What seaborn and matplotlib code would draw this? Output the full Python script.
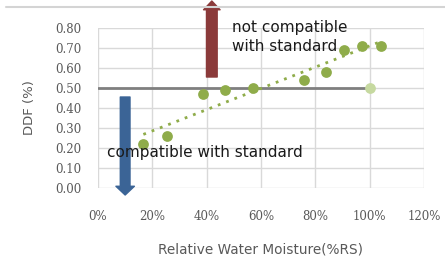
import pandas as pd
import matplotlib.pyplot as plt
import seaborn as sns

# data
moisture = [0.167, 0.255, 0.385, 0.467, 0.569, 0.759, 0.838, 0.905, 0.970, 1.040]
ddf = [0.22, 0.26, 0.47, 0.49, 0.50, 0.54, 0.58, 0.69, 0.71, 0.71]
limit_x = [0.0, 1.0]
limit_y = [0.50, 0.50]
xticks = [0, 0.2, 0.4, 0.6, 0.8, 1.0, 1.2]
yticks = [0, 0.1, 0.2, 0.3, 0.4, 0.5, 0.6, 0.7, 0.8]

df = pd.DataFrame({'moisture': moisture, 'ddf': ddf})

sns.set_style('white')
fig = plt.figure(figsize=(4.45, 2.62), dpi=100)
ax = fig.add_axes([0.2202, 0.2824, 0.7326, 0.6107])

grey_txt = '#595959'
green = '#8fac4a'

# standard limit line
ax.plot(limit_x, limit_y, color='#7f7f7f', lw=2, zorder=2)
ax.scatter([limit_x[1]], [limit_y[1]], s=60, color='#c6d9a0', zorder=3, linewidths=0)

sns.regplot(data=df, x='moisture', y='ddf', ci=None, ax=ax, color=green,
            scatter_kws=dict(s=60, linewidths=0, zorder=4, alpha=1),
            line_kws=dict(ls=(0, (1, 2.2)), lw=2, zorder=3))

ax.set_xlim(0, 1.2)
ax.set_ylim(0, 0.8)
ax.set_xticks(xticks)
ax.set_yticks(yticks)
ax.set_xticklabels([f'{int(round(t*100))}%' for t in xticks])
ax.set_yticklabels([f'{t:.2f}' for t in yticks])
ax.grid(True, color='#d9d9d9', lw=1)
ax.set_axisbelow(True)
for s in ax.spines.values():
    s.set_visible(False)
ax.tick_params(axis='y', length=0, pad=12, labelsize=8.5, labelcolor=grey_txt,
               labelfontfamily='DejaVu Serif')
ax.tick_params(axis='x', length=0, pad=16, labelsize=8.5, labelcolor=grey_txt,
               labelfontfamily='DejaVu Serif')

ax.set_xlabel('Relative Water Moisture(%RS)', fontsize=9.8, color=grey_txt, labelpad=14)
ax.set_ylabel('DDF (%)', fontsize=9.5, color=grey_txt, labelpad=14)

# arrows
ax.annotate('', xy=(0.419, 0.935), xytext=(0.419, 0.555), annotation_clip=False,
            arrowprops=dict(arrowstyle='simple,head_length=0.45,head_width=0.85,tail_width=0.55',
                            mutation_scale=14, color='#8b3a3a', shrinkA=0, shrinkB=0))
ax.annotate('', xy=(0.10, -0.035), xytext=(0.10, 0.455), annotation_clip=False,
            arrowprops=dict(arrowstyle='simple,head_length=0.45,head_width=0.95,tail_width=0.5',
                            mutation_scale=14, color='#3b6496', shrinkA=0, shrinkB=0))

ax.text(0.493, 0.755, 'not compatible\nwith standard', fontsize=11, va='center', ha='left',
        linespacing=1.3, color='#1a1a1a', zorder=6)
ax.text(0.033, 0.18, 'compatible with standard', fontsize=11, va='center', ha='left',
        color='#1a1a1a', zorder=6)

# top border line of the chart frame
fig.add_artist(plt.Line2D([6/445, 1], [1 - 7/262, 1 - 7/262], color='#d4d4d4', lw=1.5))

fig.savefig('out.png', dpi=100)
